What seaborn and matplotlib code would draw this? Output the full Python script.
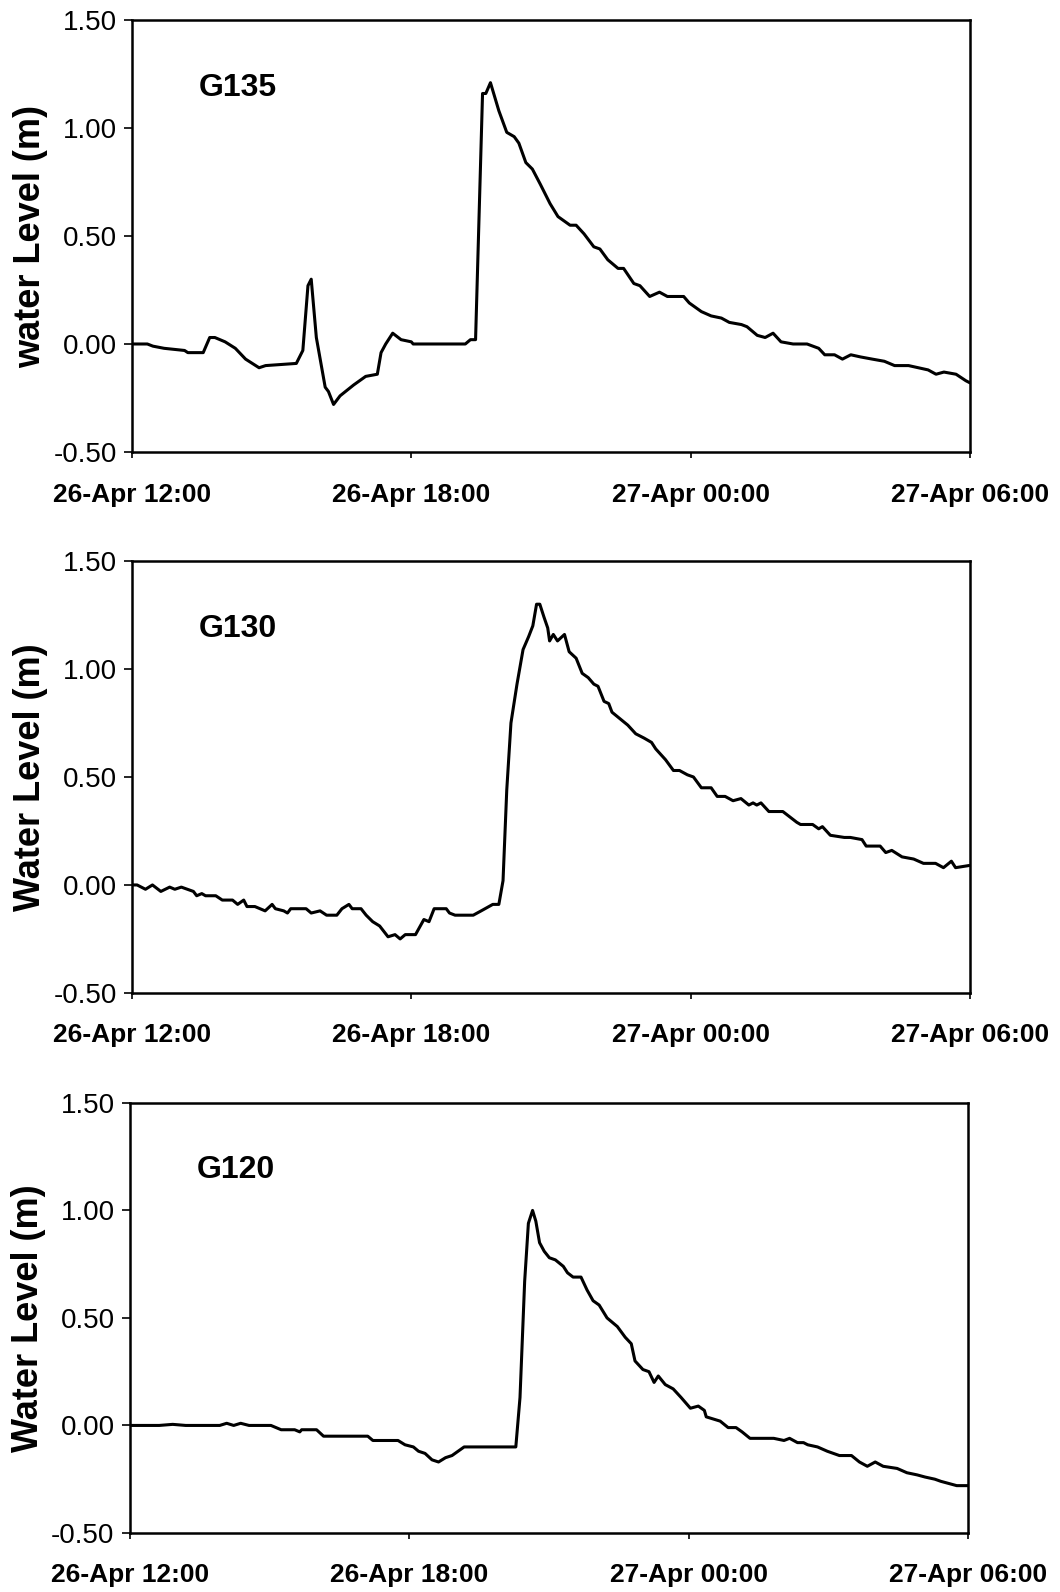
import numpy as np
import pandas as pd
import matplotlib
matplotlib.use("Agg")
import matplotlib.pyplot as plt
import matplotlib.dates as mdates
import seaborn as sns

# hours after 26-Apr 12:00 and water level (m)
g135_t = [0, 0.33, 0.45, 0.69, 1.13, 1.2, 1.53, 1.67, 1.78, 2.0, 2.22, 2.44, 2.73, 2.87, 3.53, 3.67,
          3.78, 3.85, 3.96, 4.15, 4.22, 4.33, 4.47, 4.76, 5.02, 5.27, 5.35, 5.45, 5.6, 5.78, 6.0, 6.04,
          6.73, 7.16, 7.27, 7.38, 7.53, 7.6, 7.7, 7.88, 8.05, 8.21, 8.31, 8.46, 8.6, 8.77, 8.98, 9.15,
          9.41, 9.54, 9.71, 9.92, 10.05, 10.22, 10.44, 10.56, 10.78, 10.91, 11.12, 11.33, 11.5, 11.85,
          11.97, 12.23, 12.44, 12.66, 12.83, 13.09, 13.21, 13.43, 13.6, 13.77, 13.94, 14.2, 14.5, 14.75,
          14.88, 15.09, 15.26, 15.44, 15.65, 15.9, 16.16, 16.38, 16.68, 16.89, 17.1, 17.27, 17.44, 17.7,
          17.91, 18.0]
g135_v = [0.0, 0.0, -0.01, -0.02, -0.03, -0.04, -0.04, 0.03, 0.03, 0.01, -0.02, -0.07, -0.11, -0.10, -0.09, -0.03,
          0.27, 0.30, 0.03, -0.20, -0.22, -0.28, -0.24, -0.19, -0.15, -0.14, -0.04, 0.0, 0.05, 0.02, 0.01, 0.0,
          0.0, 0.0, 0.02, 0.02, 1.16, 1.16, 1.21, 1.08, 0.98, 0.96, 0.93, 0.84, 0.81, 0.74, 0.65, 0.59,
          0.55, 0.55, 0.51, 0.45, 0.44, 0.39, 0.35, 0.35, 0.28, 0.27, 0.22, 0.24, 0.22, 0.22,
          0.19, 0.15, 0.13, 0.12, 0.10, 0.09, 0.08, 0.04, 0.03, 0.05, 0.01, 0.0, 0.0, -0.02,
          -0.05, -0.05, -0.07, -0.05, -0.06, -0.07, -0.08, -0.10, -0.10, -0.11, -0.12, -0.14, -0.13, -0.14,
          -0.17, -0.18]

g130_t = [0, 0.11, 0.29, 0.44, 0.62, 0.81, 0.92, 1.06, 1.32, 1.39, 1.5, 1.58, 1.8, 1.94, 2.16, 2.27, 2.4,
          2.47, 2.64, 2.86, 3.01, 3.08, 3.26, 3.34, 3.41, 3.74, 3.85, 4.04, 4.18, 4.4, 4.51, 4.66, 4.73,
          4.92, 5.03, 5.17, 5.32, 5.5, 5.65, 5.76, 5.87, 6.09, 6.27, 6.38, 6.49, 6.75, 6.82, 6.94, 7.33,
          7.5, 7.75, 7.88, 7.97, 8.05, 8.14, 8.27, 8.4, 8.52, 8.61, 8.69, 8.76, 8.85, 8.93, 8.97, 9.05,
          9.14, 9.29, 9.39, 9.54, 9.67, 9.8, 9.92, 10.01, 10.14, 10.24, 10.31, 10.48, 10.65, 10.82, 11.0,
          11.16, 11.25, 11.46, 11.63, 11.76, 11.93, 12.06, 12.23, 12.44, 12.57, 12.74, 12.91, 13.08, 13.25,
          13.34, 13.42, 13.51, 13.68, 13.98, 14.28, 14.36, 14.62, 14.75, 14.83, 15.0, 15.3, 15.43, 15.68,
          15.77, 15.94, 16.07, 16.19, 16.32, 16.54, 16.79, 17.0, 17.26, 17.43, 17.6, 17.69, 17.98]
g130_v = [0.0, 0.0, -0.02, 0.0, -0.03, -0.01, -0.02, -0.01, -0.03, -0.05, -0.04, -0.05, -0.05, -0.07, -0.07, -0.09, -0.07,
          -0.10, -0.10, -0.12, -0.09, -0.11, -0.12, -0.13, -0.11, -0.11, -0.13, -0.12, -0.14, -0.14, -0.11, -0.09, -0.11,
          -0.11, -0.14, -0.17, -0.19, -0.24, -0.23, -0.25, -0.23, -0.23, -0.16, -0.17, -0.11, -0.11, -0.13, -0.14, -0.14,
          -0.12, -0.09, -0.09, 0.02, 0.44, 0.75, 0.93, 1.09, 1.15, 1.20, 1.30, 1.30, 1.24, 1.19, 1.13, 1.16,
          1.13, 1.16, 1.08, 1.05, 0.98, 0.96, 0.93, 0.92, 0.85, 0.84, 0.80, 0.77, 0.74, 0.70, 0.68,
          0.66, 0.63, 0.58, 0.53, 0.53, 0.51, 0.50, 0.45, 0.45, 0.41, 0.41, 0.39, 0.40, 0.37,
          0.38, 0.37, 0.38, 0.34, 0.34, 0.29, 0.28, 0.28, 0.26, 0.27, 0.23, 0.22, 0.22, 0.21,
          0.18, 0.18, 0.18, 0.15, 0.16, 0.13, 0.12, 0.10, 0.10, 0.08, 0.11, 0.08, 0.09]

g120_t = [0, 0.63, 0.92, 1.2, 1.93, 2.08, 2.23, 2.38, 2.56, 3.03, 3.25, 3.54, 3.65, 3.69, 4.01, 4.16, 5.11,
          5.22, 5.76, 5.91, 6.09, 6.2, 6.34, 6.49, 6.63, 6.78, 6.92, 7.18, 7.44, 8.29, 8.38, 8.48, 8.56,
          8.65, 8.72, 8.8, 8.9, 9.01, 9.14, 9.31, 9.4, 9.52, 9.69, 9.82, 9.95, 10.08, 10.25, 10.47, 10.64,
          10.77, 10.85, 11.02, 11.15, 11.26, 11.35, 11.5, 11.67, 11.84, 12.04, 12.21, 12.34, 12.38, 12.68,
          12.85, 13.02, 13.15, 13.32, 13.83, 14.05, 14.17, 14.34, 14.47, 14.56, 14.77, 14.98, 15.24, 15.5,
          15.67, 15.84, 16.01, 16.18, 16.48, 16.69, 16.91, 17.08, 17.29, 17.42, 17.59, 17.76, 18.0]
g120_v = [0.0, 0.0, 0.005, 0.0, 0.0, 0.01, 0.0, 0.01, 0.0, 0.0, -0.02, -0.02, -0.03, -0.02, -0.02, -0.05, -0.05,
          -0.07, -0.07, -0.09, -0.10, -0.12, -0.13, -0.16, -0.17, -0.15, -0.14, -0.10, -0.10, -0.10, 0.13, 0.67, 0.94,
          1.00, 0.95, 0.85, 0.81, 0.78, 0.77, 0.74, 0.71, 0.69, 0.69, 0.63, 0.58, 0.56, 0.50, 0.46, 0.41,
          0.38, 0.30, 0.26, 0.25, 0.20, 0.23, 0.19, 0.17, 0.13, 0.08, 0.09, 0.07, 0.04, 0.02,
          -0.01, -0.01, -0.03, -0.06, -0.06, -0.07, -0.06, -0.08, -0.08, -0.09, -0.10, -0.12, -0.14, -0.14,
          -0.17, -0.19, -0.17, -0.19, -0.20, -0.22, -0.23, -0.24, -0.25, -0.26, -0.27, -0.28, -0.28]

stations = ["G135", "G130", "G120"]
ylabels = ["water Level (m)", "Water Level (m)", "Water Level (m)"]
y_ticks = [-0.5, 0.0, 0.5, 1.0, 1.5]

sns.set_style("ticks")
plt.rcParams["font.family"] = ["Liberation Sans", "DejaVu Sans"]
plt.rcParams["text.color"] = "black"
plt.rcParams["axes.labelcolor"] = "black"
plt.rcParams["xtick.color"] = "black"
plt.rcParams["ytick.color"] = "black"

start = pd.Timestamp("2000-04-26 12:00")
series = [(g135_t, g135_v), (g130_t, g130_v), (g120_t, g120_v)]

fig = plt.figure(figsize=(10.6, 15.92), dpi=100)
boxes = [(0.1245, 0.7161, 0.7906, 0.2713),
         (0.1245, 0.3763, 0.7906, 0.2713),
         (0.1225, 0.0371, 0.7906, 0.2701)]

for (t, v), name, yl, box in zip(series, stations, ylabels, boxes):
    ax = fig.add_axes(box)
    df = pd.DataFrame({"time": start + pd.to_timedelta(np.array(t), unit="h"), "level": v})
    sns.lineplot(data=df, x="time", y="level", ax=ax, color="black", linewidth=2.2)
    ax.set_xlim(start, start + pd.Timedelta(hours=18))
    ax.set_ylim(-0.5, 1.5)
    ax.set_yticks(y_ticks)
    ax.set_yticklabels([f"{y:.2f}" for y in y_ticks], fontsize=20)
    ax.xaxis.set_major_locator(mdates.HourLocator(byhour=[0, 6, 12, 18]))
    ax.xaxis.set_major_formatter(mdates.DateFormatter("%d-%b %H:%M"))
    for lab in ax.get_xticklabels():
        lab.set_fontweight("bold")
        lab.set_fontsize(19)
    ax.tick_params(axis="x", direction="out", length=4, width=1.2, pad=18, colors="black")
    ax.tick_params(axis="y", direction="out", length=6, width=1.2, pad=5, colors="black")
    for s in ax.spines.values():
        s.set_visible(True)
        s.set_linewidth(1.8)
        s.set_color("black")
    ax.set_xlabel("")
    ax.set_ylabel(yl, fontsize=26, fontweight="bold", labelpad=4, color="black")
    ax.text(0.08, 0.843, name, transform=ax.transAxes, fontsize=23, fontweight="bold",
            va="center", ha="left", color="black")

fig.savefig("out.png", dpi=100)
